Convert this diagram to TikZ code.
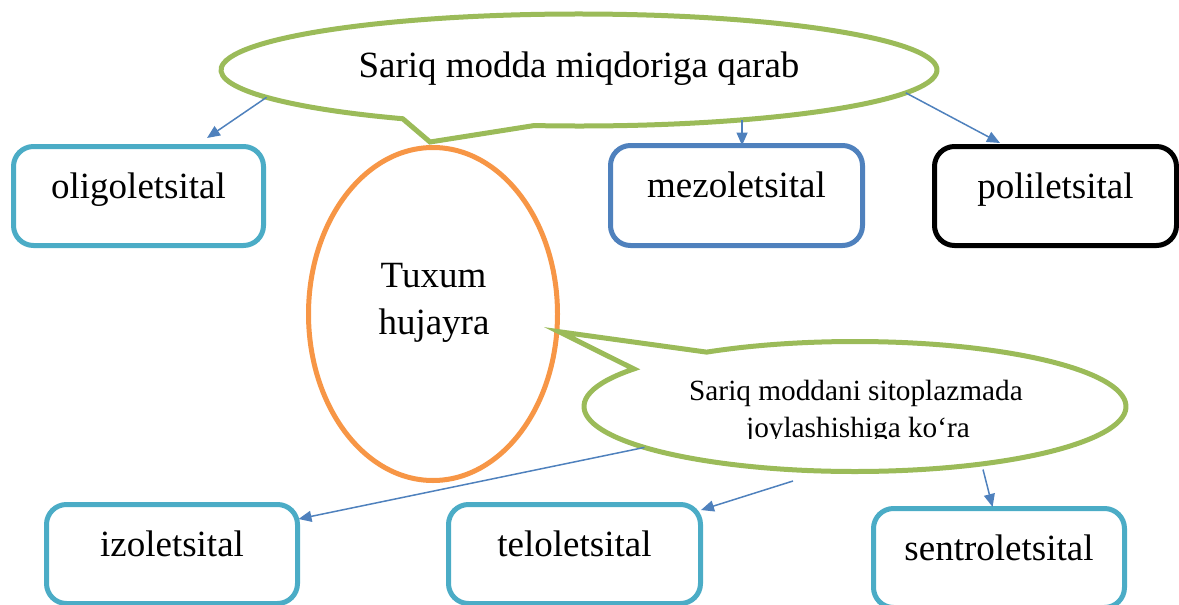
\documentclass[tikz,border=0pt]{standalone}
\usepackage{fontspec}
\setmainfont{Liberation Serif}
\usetikzlibrary{arrows.meta,shapes.geometric,calc}
\definecolor{cgreen}{HTML}{9BBB59}
\definecolor{corange}{HTML}{F79646}
\definecolor{ccyan}{HTML}{4BACC6}
\definecolor{cblue}{HTML}{4F81BD}
\begin{document}
\begin{tikzpicture}[x=1pt,y=1pt,
  box/.style={draw, rounded corners=20pt, line width=5pt, minimum height=99pt,
    inner sep=0pt, outer sep=0pt, font=\fontsize{37}{44}\selectfont,
    text height=20pt, text depth=16pt},
  callout/.style={draw=cgreen, line width=5pt, line join=miter, fill=white},
  arr/.style={draw=cblue, line width=1.5pt, -{Triangle[length=13pt,width=11pt]}},
  lbl/.style={inner sep=0pt, anchor=base},
  big/.style={font=\fontsize{37}{44}\selectfont},
  small/.style={font=\fontsize{29.3}{38}\selectfont},
]
\useasboundingbox (0,0) rectangle (1179,-605);
\clip (0,0) rectangle (1179,-605);

% egg cell
\node[ellipse, draw=corange, line width=5pt, minimum width=249pt, minimum height=333pt,
  inner sep=0pt, outer sep=0pt] (egg) at (433,-314) {};
\node[lbl, big] (eggt1) at (433.5,-287) {Tuxum};
\node[lbl, big] (eggt2) at (434,-334) {hujayra};

% top callout
\draw[callout] ($(579,-70)+(262.8:358 and 56)$)
  arc[start angle=262.8, end angle=600.5, x radius=358, y radius=56]
  -- (430,-142) -- cycle;
\node[ellipse, minimum width=716pt, minimum height=112pt, inner sep=0pt, outer sep=0pt,
  big, text height=26pt, text depth=12pt] (topc) at (579,-70) {Sariq modda miqdoriga qarab};

% bottom callout
\draw[callout] ($(855,-406.5)+(144.7:271 and 65)$)
  arc[start angle=144.7, end angle=483.2, x radius=271, y radius=65]
  -- (559,-331.7) -- cycle;
\node[ellipse, minimum width=542pt, minimum height=130pt, inner sep=0pt, outer sep=0pt]
  (botc) at (855,-406.5) {};
\begin{scope}
  \clip (575,-330) rectangle (1135,-438.5);
  \node[lbl, small] (botct1) at (856,-400) {Sariq moddani sitoplazmada};
  \node[lbl, small] (botct2) at (858,-437) {joylashishiga ko‘ra};
\end{scope}

% boxes
\node[box, draw=ccyan, minimum width=250pt] (oligo) at (138.5,-196) {oligoletsital};
\node[box, draw=cblue, minimum width=252pt, minimum height=100pt] (mezo) at (736.5,-195.5) {mezoletsital};
\node[box, draw=black, minimum width=242pt] (poli) at (1055.5,-196) {poliletsital};
\node[box, draw=ccyan, minimum width=251pt] (izo) at (172,-554) {izoletsital};
\node[box, draw=ccyan, minimum width=252pt] (telo) at (574.5,-554) {teloletsital};
\node[box, draw=ccyan, minimum width=251pt] (sentro) at (999,-558) {sentroletsital};

% connectors
\coordinate (s5) at (793,-481);
\coordinate (s6) at (983,-469.5);
\draw[arr] (topc.185.6) -- ([shift={(68.5,8.5)}]oligo.north);
\draw[arr] (topc.-17.9) -- (topc.-17.9 |- mezo.north);
\draw[arr] (topc.-4.84) -- ([shift={(-55.5,3.5)}]poli.north);
\draw[arr] (botc.191.9) -- ([shift={(1,-14.5)}]izo.north east);
\draw[arr] (s5) -- ([shift={(0.5,-5.5)}]telo.north east);
\draw[arr] (s6) -- ([shift={(-6.4,1.5)}]sentro.north);
\end{tikzpicture}
\end{document}
